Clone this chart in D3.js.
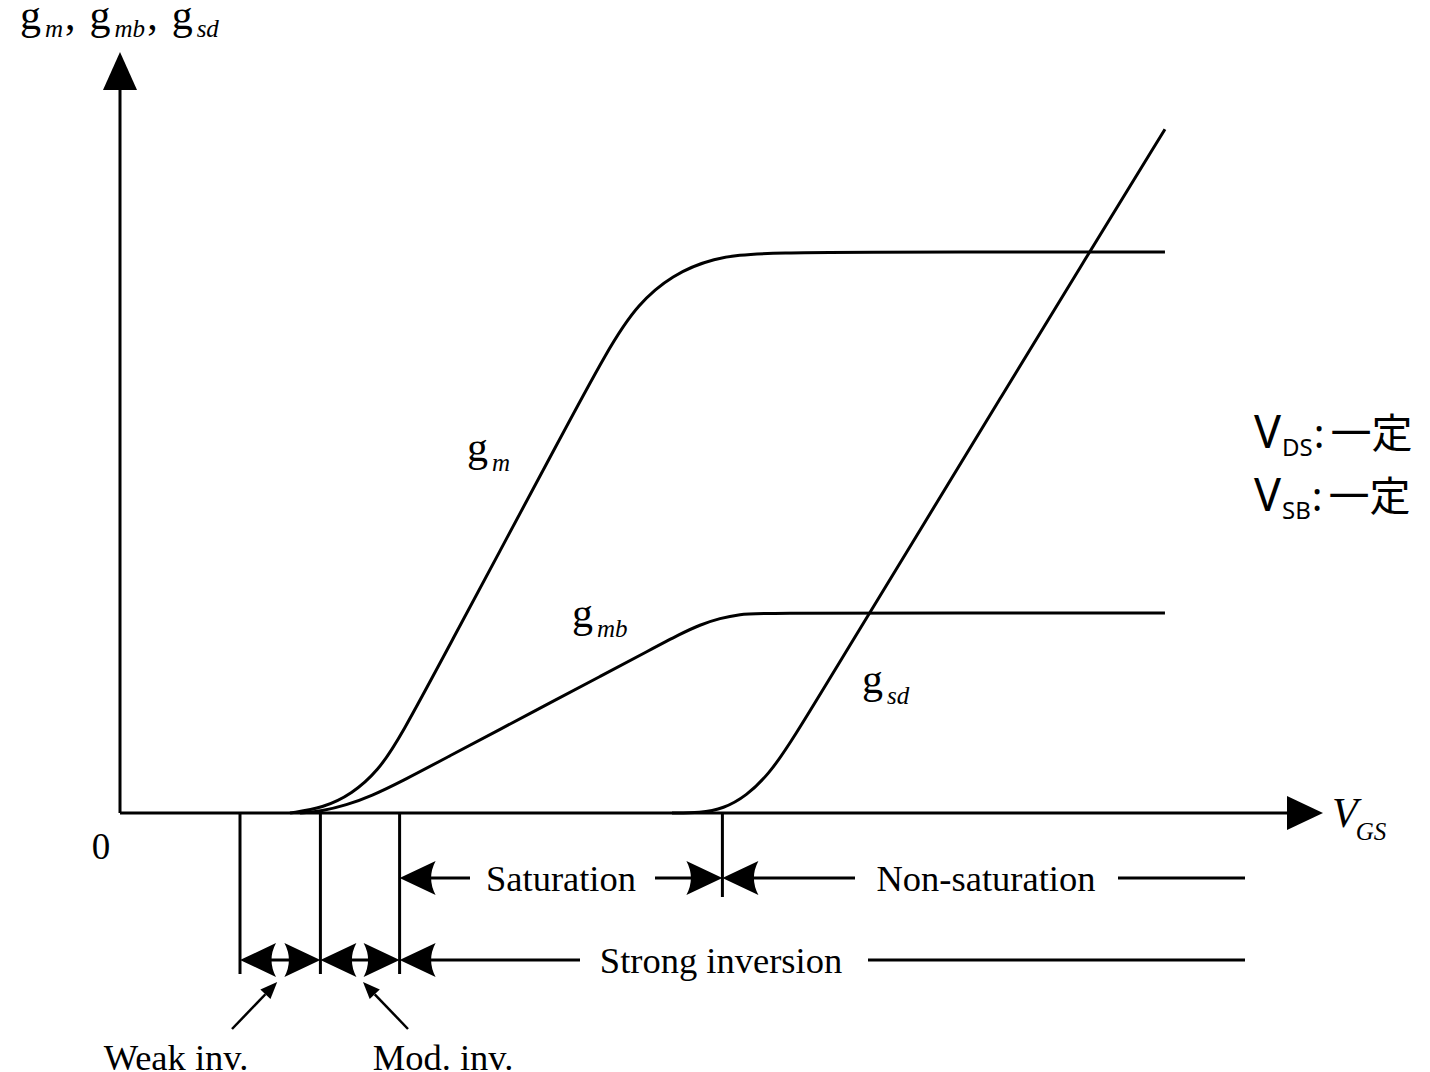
<!DOCTYPE html>
<html><head><meta charset="utf-8">
<script src="https://cdn.jsdelivr.net/npm/d3@7/dist/d3.min.js"></script>
<style>body{margin:0;background:#fff}svg{display:block}</style>
</head><body>
<script>
// ---- data (arbitrary units: VGS 0..100, conductance 0..100) ----
const gmPoints = [[14.17,0],[16.92,0.66],[19.33,2.5],[21.5,5.53],[23.33,9.87],[27.5,22.18],[31.67,34.49],[35.83,46.8],[40.83,61.58],[43.17,66.97],[46.0,70.79],[49.42,73.03],[53.33,73.82],[70,73.82],[87.08,73.82]];
const gmbPoints = [[15,0],[16.83,0.25],[18.83,1.01],[21,2.28],[23.33,4.04],[27.5,7.53],[31.67,11.01],[35.83,14.49],[40,17.96],[44.17,21.45],[46.67,23.54],[48.33,24.76],[50,25.63],[51.67,26.14],[53.33,26.32],[70,26.32],[87.08,26.32]];
const gsdPoints = [[46,0],[48.33,0],[50.3,0.57],[52.21,2.26],[54.05,5.09],[55.83,9.05],[60.83,22.1],[66.67,37.21],[73.33,54.5],[80,71.76],[87.08,89.97]];
const regionBounds = [10, 16.7, 23.3, 50.2]; // weak start, moderate start, strong start, sat/non-sat boundary
const regionEnd = 93.75;
const regionLabels = ["Saturation","Non-saturation","Strong inversion","Weak inv.","Mod. inv."];
const conditionLabels = [["V","DS",":","一定"],["V","SB",":","一定"]];

const W=1430,H=1072;
const svg=d3.select("body").append("svg").attr("width",W).attr("height",H);
const x=d3.scaleLinear().domain([0,100]).range([120,1320]);
const y=d3.scaleLinear().domain([0,100]).range([813,53]);
const SERIF="'Liberation Serif','Times New Roman',serif";
const SW=3;

// axes
svg.append("line").attr("x1",x(0)).attr("y1",y(0)).attr("x2",x(0)).attr("y2",88).attr("stroke","#000").attr("stroke-width",SW);
svg.append("line").attr("x1",x(0)).attr("y1",y(0)).attr("x2",1292).attr("y2",y(0)).attr("stroke","#000").attr("stroke-width",SW);
svg.append("path").attr("d",`M${x(0)},52 L${x(0)+17},90 L${x(0)-17},90 Z`).attr("fill","#000");
svg.append("path").attr("d",`M1323,${y(0)} L1287,${y(0)-17} L1287,${y(0)+17} Z`).attr("fill","#000");

// curves
const line=d3.line().x(d=>x(d[0])).y(d=>y(d[1])).curve(d3.curveBasis);
[gmPoints,gmbPoints,gsdPoints].forEach(p=>{
  svg.append("path").attr("d",line(p)).attr("fill","none").attr("stroke","#000").attr("stroke-width",SW).attr("stroke-linejoin","round");
});

// helper: g with italic subscript
function gLabel(px,py,parts,big,small){
  const t=svg.append("text").attr("x",px).attr("y",py).attr("font-family",SERIF);
  parts.forEach(p=>{
    const ts=t.append("tspan").text(p.t).attr("font-size",p.sub?small:big);
    if(p.sub) ts.attr("font-style","italic");
    if(p.dy) ts.attr("dy",p.dy);
    if(p.dx) ts.attr("dx",p.dx);
  });
  return t;
}
gLabel(20,29,[{t:"g"},{t:"m",sub:1,dy:8,dx:4},{t:",",dy:-8,dx:2},{t:"g",dx:14},{t:"mb",sub:1,dy:8,dx:4},{t:",",dy:-8,dx:2},{t:"g",dx:14},{t:"sd",sub:1,dy:8,dx:4}],42,25);
gLabel(467,461,[{t:"g"},{t:"m",sub:1,dy:10,dx:4}],42,25);
gLabel(572,627,[{t:"g"},{t:"mb",sub:1,dy:10,dx:4}],42,25);
gLabel(862,693,[{t:"g"},{t:"sd",sub:1,dy:11,dx:4}],42,25);
svg.append("text").attr("x",1332).attr("y",827).attr("font-family",SERIF).attr("font-style","italic")
  .call(t=>{t.append("tspan").text("V").attr("font-size",42);t.append("tspan").text("GS").attr("font-size",25).attr("dy",13).attr("dx",-2);});
svg.append("text").attr("x",101).attr("y",859).attr("text-anchor","middle").attr("font-family",SERIF).attr("font-size",37).text("0");

// conditions
conditionLabels.forEach((c,i)=>{
  const yy=448+i*63;
  const t=svg.append("text").attr("x",1254).attr("y",yy).attr("font-family","'Noto Sans','Noto Sans CJK JP',sans-serif");
  t.append("tspan").text(c[0]).attr("font-size",45);
  t.append("tspan").text(c[1]).attr("font-size",24).attr("dy",8).attr("dx",1);
  t.append("tspan").text(c[2]).attr("font-size",40).attr("dy",-8).attr("dx",1);
  t.append("tspan").text(c[3]).attr("font-size",41).attr("dx",6).attr("font-family","'Noto Sans CJK JP',sans-serif");
});

// region markers
const rowSat=878,rowStrong=960;
regionBounds.forEach((b,i)=>{
  svg.append("line").attr("x1",x(b)).attr("x2",x(b)).attr("y1",y(0)).attr("y2",i===3?897:974).attr("stroke","#000").attr("stroke-width",SW);
});
function head(tx,ty,dir,L=36,h=17,c=9){
  const bx=tx-dir*L;
  svg.append("path").attr("d",`M${tx},${ty} L${bx},${ty-h} Q${bx+dir*c},${ty} ${bx},${ty+h} Z`).attr("fill","#000");
}
function hline(x1,x2,yy){svg.append("line").attr("x1",x1).attr("x2",x2).attr("y1",yy).attr("y2",yy).attr("stroke","#000").attr("stroke-width",SW);}
function label(t,cx,yy){svg.append("text").attr("x",cx).attr("y",yy).attr("text-anchor","middle").attr("font-family",SERIF).attr("font-size",36.5).text(t);}

const xb=regionBounds.map(b=>x(b));
// saturation row
head(xb[2],rowSat,-1); hline(xb[2]+30,470,rowSat); label(regionLabels[0],561,rowSat+13); hline(655,xb[3]-30,rowSat); head(xb[3],rowSat,1);
head(xb[3],rowSat,-1); hline(xb[3]+30,855,rowSat); label(regionLabels[1],986,rowSat+13); hline(1118,x(regionEnd),rowSat);
// strong inversion row
head(xb[0],rowStrong,-1); hline(xb[0]+30,xb[1]-30,rowStrong); head(xb[1],rowStrong,1);
head(xb[1],rowStrong,-1); hline(xb[1]+30,xb[2]-30,rowStrong); head(xb[2],rowStrong,1);
head(xb[2],rowStrong,-1); hline(xb[2]+30,580,rowStrong); label(regionLabels[2],721,rowStrong+13); hline(868,x(regionEnd),rowStrong);

// pointers
function pointer(x1,y1,x2,y2){
  const a=Math.atan2(y2-y1,x2-x1),L=17,h=7;
  const bx=x2-L*Math.cos(a),by=y2-L*Math.sin(a);
  svg.append("line").attr("x1",x1).attr("y1",y1).attr("x2",bx).attr("y2",by).attr("stroke","#000").attr("stroke-width",2.5);
  svg.append("path").attr("d",`M${x2},${y2} L${bx+h*Math.sin(a)},${by-h*Math.cos(a)} L${bx-h*Math.sin(a)},${by+h*Math.cos(a)} Z`).attr("fill","#000");
}
pointer(232,1029,(xb[0]+xb[1])/2-3,982);
pointer(408,1029,(xb[1]+xb[2])/2+3,982);
label(regionLabels[3],176,1070);
label(regionLabels[4],443,1070);
</script>
</body></html>
